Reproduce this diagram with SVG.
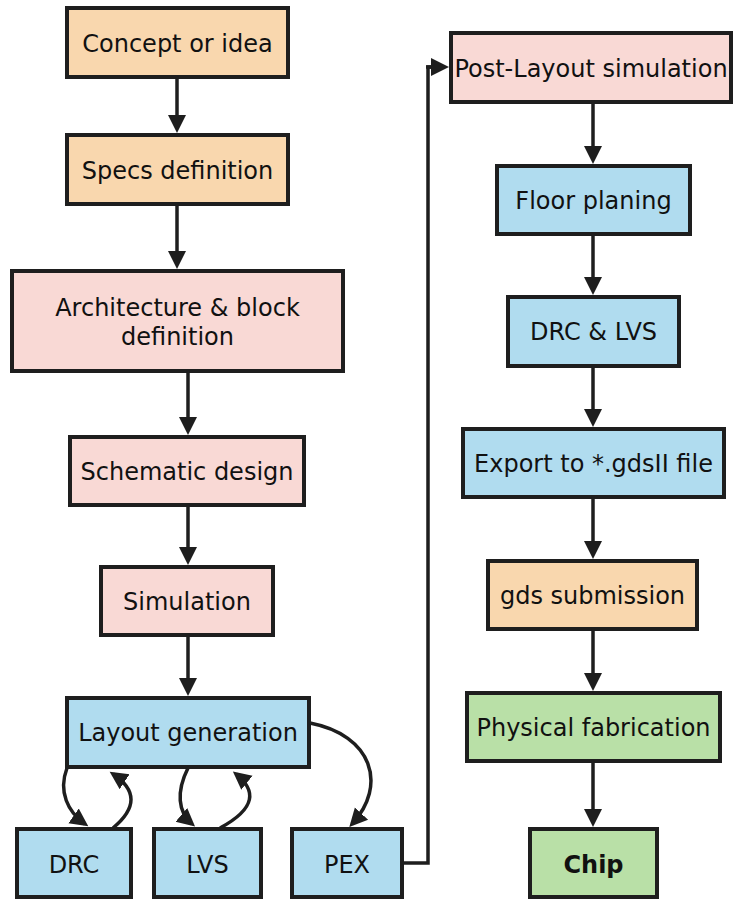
<svg xmlns="http://www.w3.org/2000/svg" width="737" height="899" viewBox="0 0 737 899">
  <style>
    .box { stroke: #1e1e1e; stroke-width: 4; }
    .orange { fill: #f9d7ae; }
    .pink { fill: #f9d9d5; }
    .blue { fill: #b0dcef; }
    .green { fill: #b9e0a7; }
    .lbl { font-family: "DejaVu Sans", Verdana, sans-serif; font-size: 24px; fill: #111; text-anchor: middle; }
    .bold { font-weight: bold; }
    .edge { fill: none; stroke: #1e1e1e; stroke-width: 3.5; marker-end: url(#arrow); }
    .wire { fill: none; stroke: #1e1e1e; stroke-width: 3.5; }
  </style>
  <defs>
    <marker id="arrow" markerUnits="userSpaceOnUse" markerWidth="20" markerHeight="20" viewBox="0 0 20 20" refX="14" refY="10" orient="auto">
      <path d="M0,1 L18,10 L0,19 z" fill="#1e1e1e"/>
    </marker>
  </defs>
  <rect width="737" height="899" fill="#ffffff"/>

  <!-- left column -->
  <g id="concept">
    <rect class="box orange" x="67" y="8" width="221" height="69"/>
    <text class="lbl" x="177.5" y="51.5">Concept or idea</text>
  </g>
  <g id="specs">
    <rect class="box orange" x="67" y="135" width="221" height="69"/>
    <text class="lbl" x="177.5" y="178.5">Specs definition</text>
  </g>
  <g id="architecture">
    <rect class="box pink" x="12" y="271" width="331" height="100"/>
    <text class="lbl" x="177.5" y="315.5">Architecture &amp; block</text>
    <text class="lbl" x="177.5" y="344.5">definition</text>
  </g>
  <g id="schematic">
    <rect class="box pink" x="70" y="437" width="234" height="68"/>
    <text class="lbl" x="187" y="479.5">Schematic design</text>
  </g>
  <g id="simulation">
    <rect class="box pink" x="101" y="567" width="172" height="68"/>
    <text class="lbl" x="187" y="609.5">Simulation</text>
  </g>
  <g id="layout">
    <rect class="box blue" x="67" y="698" width="242" height="69"/>
    <text class="lbl" x="188" y="740.5">Layout generation</text>
  </g>
  <g id="drc">
    <rect class="box blue" x="17" y="829" width="114" height="68"/>
    <text class="lbl" x="74" y="872.5">DRC</text>
  </g>
  <g id="lvs">
    <rect class="box blue" x="154" y="829" width="107" height="68"/>
    <text class="lbl" x="207.5" y="872.5">LVS</text>
  </g>
  <g id="pex">
    <rect class="box blue" x="292" y="829" width="110" height="68"/>
    <text class="lbl" x="347" y="872.5">PEX</text>
  </g>

  <!-- right column -->
  <g id="post-layout">
    <rect class="box pink" x="451" y="33" width="280" height="69"/>
    <text class="lbl" x="591" y="76.5">Post-Layout simulation</text>
  </g>
  <g id="floor">
    <rect class="box blue" x="497" y="166" width="193" height="68"/>
    <text class="lbl" x="593.5" y="208.5">Floor planing</text>
  </g>
  <g id="drc-lvs">
    <rect class="box blue" x="508" y="297" width="171" height="69"/>
    <text class="lbl" x="593.5" y="339.5">DRC &amp; LVS</text>
  </g>
  <g id="export">
    <rect class="box blue" x="463" y="429" width="261" height="68"/>
    <text class="lbl" x="593.5" y="471.5">Export to *.gdsII file</text>
  </g>
  <g id="gds">
    <rect class="box orange" x="488" y="561" width="209" height="68"/>
    <text class="lbl" x="592.5" y="603.5">gds submission</text>
  </g>
  <g id="fabrication">
    <rect class="box green" x="467" y="693" width="253" height="68"/>
    <text class="lbl" x="593.5" y="735.5">Physical fabrication</text>
  </g>
  <g id="chip">
    <rect class="box green" x="530" y="829" width="127" height="68"/>
    <text class="lbl bold" x="593.5" y="872.5">Chip</text>
  </g>

  <!-- connectors -->
  <g id="connectors">
    <path class="edge" d="M177,77 V129"/>
    <path class="edge" d="M177,204 V265"/>
    <path class="edge" d="M188,371 V431"/>
    <path class="edge" d="M188,505 V561"/>
    <path class="edge" d="M188,635 V692"/>
    <path class="edge" d="M67,768 C58,792 68,812 85,824"/>
    <path class="edge" d="M113,828 C137,808 137,790 113,774"/>
    <path class="edge" d="M188,768 C176,792 178,812 192,824"/>
    <path class="edge" d="M220,828 C257,808 256,790 236,774"/>
    <path class="edge" d="M310,723 C372,735 388,785 352,824"/>
    <path class="wire" d="M402,863 H428 V67 H440"/>
    <path class="edge" d="M426,67 H445"/>
    <path class="edge" d="M593,102 V160"/>
    <path class="edge" d="M593,234 V291"/>
    <path class="edge" d="M593,366 V423"/>
    <path class="edge" d="M593,497 V555"/>
    <path class="edge" d="M593,629 V687"/>
    <path class="edge" d="M593,761 V823"/>
  </g>
</svg>
